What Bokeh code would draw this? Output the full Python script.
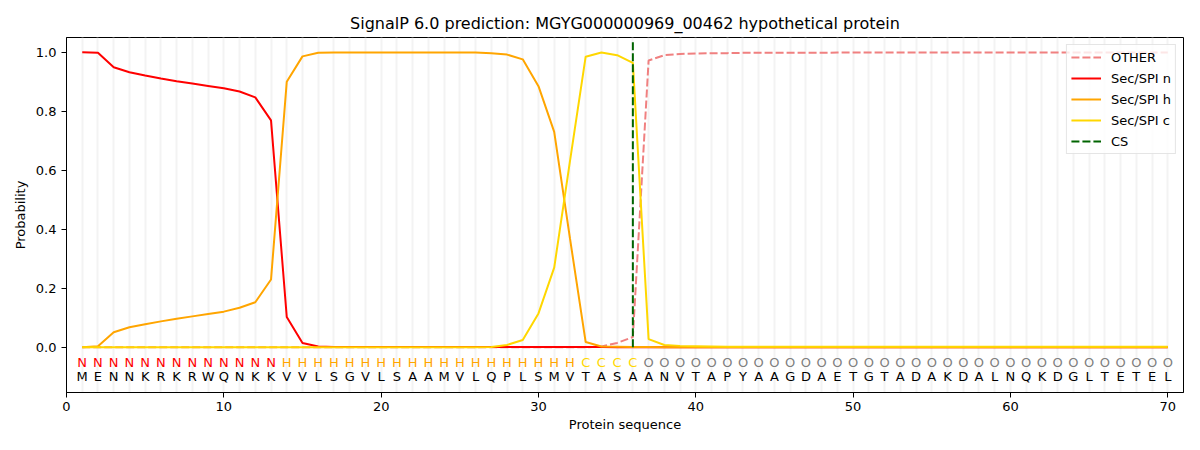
from bokeh.plotting import figure
from bokeh.models import FixedTicker, PrintfTickFormatter, ColumnDataSource, Range1d
from bokeh.core.properties import value
from bokeh.embed import file_html
from bokeh.resources import INLINE

FONT = "DejaVu Sans"

title = "SignalP 6.0 prediction: MGYG000000969_00462 hypothetical protein"
sequence = list("MENNKRKRWQNKKVVLSGVLSAAMVLQPLSMVTASAANVTAPYAAGDAETGTADAKDALNQKDGLTETEL")
tags = list("N" * 13 + "H" * 19 + "C" * 4 + "O" * 34)
positions = list(range(1, 71))
cs_position = 36

other = [0.0] * 33 + [0.003, 0.015, 0.035, 0.972, 0.99, 0.994, 0.996, 0.997, 0.997,
                      0.998, 0.998, 0.998, 0.998, 0.998, 0.998, 0.999, 0.999, 0.999,
                      0.999, 0.999, 0.999, 0.999, 0.999, 0.999, 0.999, 0.999, 0.999,
                      0.999, 0.999, 0.999, 0.999, 0.999, 0.999, 0.999, 0.999, 0.999, 0.999]
sec_n = [1.0, 0.998, 0.949, 0.932, 0.921, 0.911, 0.902, 0.894, 0.886, 0.878, 0.867, 0.847,
         0.769, 0.103, 0.015, 0.003, 0.001, 0.001, 0.001, 0.001, 0.001, 0.001, 0.001, 0.001,
         0.001, 0.001, 0.001, 0.001, 0.001, 0.001, 0.001, 0.001, 0.001, 0.001, 0.0, 0.0] + [0.0] * 34
sec_h = [0.0, 0.004, 0.051, 0.068, 0.078, 0.088, 0.097, 0.105, 0.113, 0.121, 0.134, 0.153,
         0.23, 0.90, 0.986, 0.998, 0.999, 0.999, 0.999, 0.999, 0.999, 0.999, 0.999, 0.999,
         0.999, 0.999, 0.997, 0.992, 0.976, 0.885, 0.73, 0.37, 0.018, 0.003, 0.002, 0.001,
         0.001] + [0.0] * 33
sec_c = [0.0] * 26 + [0.001, 0.008, 0.025, 0.115, 0.27, 0.63, 0.985, 0.999, 0.99, 0.964,
                      0.028, 0.008, 0.005, 0.004, 0.003, 0.002, 0.002, 0.002, 0.002, 0.002,
                      0.002, 0.002, 0.002, 0.002, 0.002, 0.002, 0.002, 0.002, 0.002, 0.002,
                      0.002, 0.002, 0.002, 0.002, 0.002, 0.002, 0.002, 0.002, 0.002, 0.002,
                      0.002, 0.002, 0.002, 0.002]

tag_colors = {"N": "red", "H": "orange", "C": "gold", "O": "grey"}

p = figure(width=1184, height=434, output_backend="svg", toolbar_location=None,
           x_range=Range1d(0, 71.0), y_range=Range1d(-0.153, 1.05),
           min_border_left=66, min_border_right=1, min_border_top=37, min_border_bottom=42)

p.title.text = title
p.title.align = "center"
p.title.text_font = FONT
p.title.text_font_size = "16px"
p.title.text_font_style = "normal"
p.title.text_color = "black"

p.outline_line_color = "black"
p.outline_line_alpha = 1

p.xaxis.ticker = FixedTicker(ticks=[0, 10, 20, 30, 40, 50, 60, 70])
p.yaxis.ticker = FixedTicker(ticks=[0, 0.2, 0.4, 0.6, 0.8, 1.0])
p.yaxis.formatter = PrintfTickFormatter(format="%.1f")
for ax in (p.xaxis, p.yaxis):
    ax.axis_label_text_font = FONT
    ax.axis_label_text_font_size = "13px"
    ax.axis_label_text_font_style = "normal"
    ax.axis_label_text_color = "black"
    ax.major_label_text_font = FONT
    ax.major_label_text_font_size = "13px"
    ax.major_label_text_color = "black"
    ax.major_tick_in = 0
    ax.major_tick_out = 5
    ax.major_tick_line_color = "black"
    ax.minor_tick_line_color = None
    ax.axis_line_color = "black"
p.xaxis.major_label_standoff = 4
p.xaxis.axis_label_standoff = 3
p.xaxis.axis_label = "Protein sequence"
p.yaxis.axis_label = "Probability"

p.ygrid.grid_line_color = None
p.xgrid.ticker = FixedTicker(ticks=positions)
p.xgrid.grid_line_color = "#f3f3f3"
p.xgrid.grid_line_alpha = 1
p.xgrid.grid_line_width = 2

p.line(positions, other, line_color="lightcoral", line_width=2, line_dash="8 3", legend_label="OTHER")
p.line(positions, sec_n, line_color="red", line_width=2, legend_label="Sec/SPI n")
p.line(positions, sec_h, line_color="orange", line_width=2, legend_label="Sec/SPI h")
p.line(positions, sec_c, line_color="gold", line_width=2, legend_label="Sec/SPI c")
p.segment(x0=[cs_position], y0=[0.0], x1=[cs_position], y1=[1.035], line_color="darkgreen",
          line_width=2, line_dash="8 3", legend_label="CS")

src = ColumnDataSource(dict(x=positions, tag=tags, seq=sequence,
                            tcol=[tag_colors[t] for t in tags]))
p.text(x="x", y=-0.05, text="tag", source=src, text_color="tcol", text_align="center",
       text_baseline="middle", text_font=value(FONT), text_font_size=value("13px"))
p.text(x="x", y=-0.10, text="seq", source=src, text_color="black", text_align="center",
       text_baseline="middle", text_font=value(FONT), text_font_size=value("13px"))

lg = p.legend[0]
lg.location = "top_right"
lg.margin = 7
lg.padding = 4
lg.spacing = 5
lg.label_text_font = FONT
lg.label_text_font_size = "13px"
lg.label_text_color = "black"
lg.label_standoff = 10
lg.glyph_width = 30
lg.glyph_height = 16
lg.label_height = 16
lg.border_line_color = "#cccccc"
lg.background_fill_alpha = 0.8

open("out.html", "w").write(file_html(p, INLINE))
